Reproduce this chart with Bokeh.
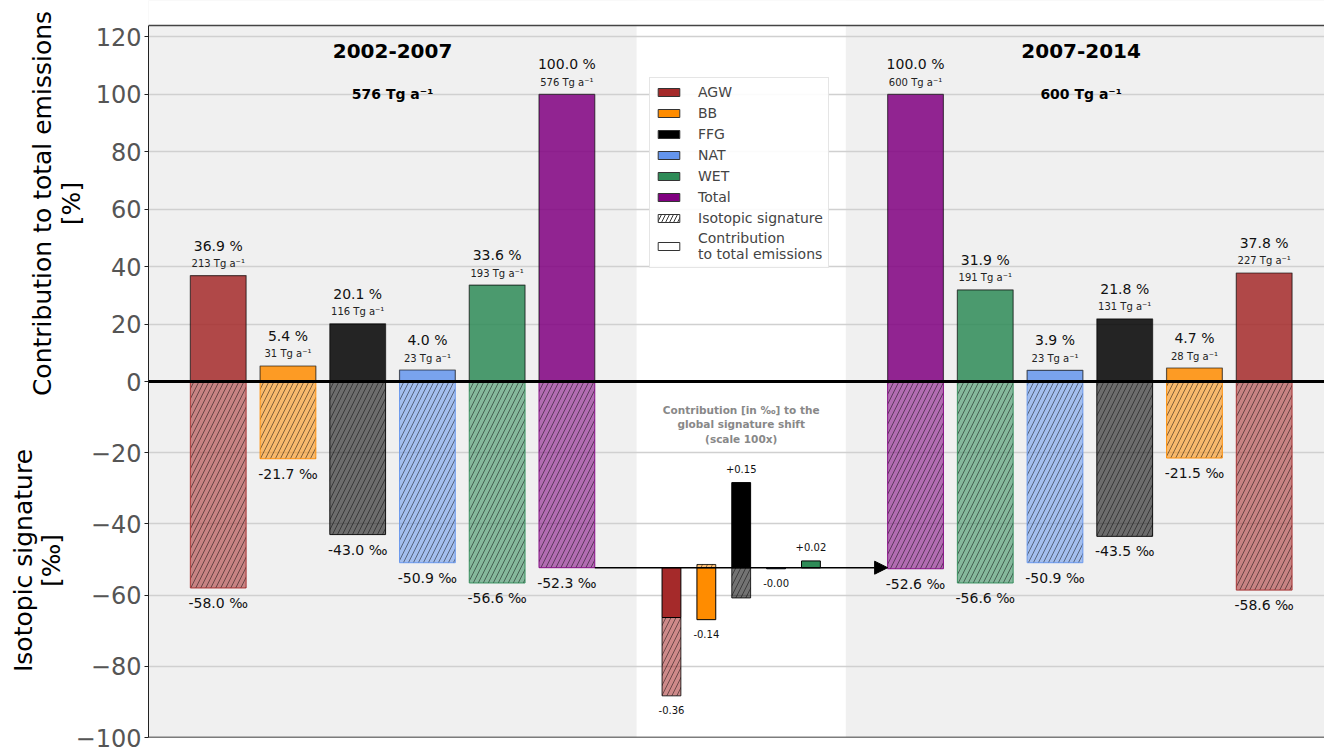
import numpy as np
from bokeh.plotting import figure
from bokeh.layouts import row
from bokeh.models import (ColumnDataSource, Range1d, FixedTicker, Span, BoxAnnotation,
                          Legend, LegendItem, Arrow, NormalHead)
from bokeh.core.properties import value
from bokeh.embed import file_html
from bokeh.resources import INLINE

# ---------------- data ----------------
categories = ["AGW", "BB", "FFG", "NAT", "WET", "Total"]
colors = ["#a52a2a", "#ff8c00", "#000000", "#6495ed", "#2e8b57", "#800080"]
periods = ["2002-2007", "2007-2014"]
period_totals = [576, 600]

share_2002_2007 = [36.9, 5.4, 20.1, 4.0, 33.6, 100.0]
tg_2002_2007 = [213, 31, 116, 23, 193, 576]
sig_2002_2007 = [-58.0, -21.7, -43.0, -50.9, -56.6, -52.3]

share_2007_2014 = [37.8, 4.7, 21.8, 3.9, 31.9, 100.0]
tg_2007_2014 = [227, 28, 131, 23, 191, 600]
sig_2007_2014 = [-58.6, -21.5, -43.5, -50.9, -56.6, -52.6]

shift_sources = ["AGW", "BB", "FFG", "NAT", "WET"]
shift_emission_part = [-0.14, -0.146, 0.239, -0.003, 0.019]   # per mil
shift_signature_part = [-0.22, 0.009, -0.085, 0.0, 0.0]       # per mil
shift_scale = 100

pct_ticks = [20, 40, 60, 80, 100, 120]
sig_ticks = [-100, -80, -60, -40, -20, 0]

FONT = "DejaVu Sans"

# ---------------- layout helpers ----------------
n = len(categories)
x_left = np.arange(1, n + 1).astype(float)
x_right = (2 * n + 5) - x_left           # mirrored group
x_mid = n + 1 + 0.5 * np.arange(1, len(shift_sources) + 1)
AX_END = 16.75                          # nominal right limit (used for centring title)
FRAME_W = 1176
PX_PER_UNIT = 69.73
X_END = FRAME_W / PX_PER_UNIT
PCT_MAX = 124.0
SIG_MAX = 100.0
HALF_H = 356                            # pixel height of each half of the axes box
TOP_GAP = 25                            # white strip above the axes box
BOT_B = 10
FRAME_H = TOP_GAP + 2 * HALF_H
PAGE_H = FRAME_H + BOT_B
SIG_TOP = SIG_MAX + TOP_GAP * SIG_MAX / HALF_H
PCT_TOP = PCT_MAX + TOP_GAP * PCT_MAX / HALF_H
LEFT_W = 100          # width of the title panel
MAIN_LEFT_B = 77
OVERLAP = LEFT_W + MAIN_LEFT_B - 148

p = figure(frame_width=FRAME_W, frame_height=FRAME_H, min_border_left=MAIN_LEFT_B, min_border_right=0,
           min_border_top=0, min_border_bottom=BOT_B, title=None,
           x_range=Range1d(0, X_END), y_range=Range1d(-SIG_MAX, SIG_TOP),
           x_axis_location=None, toolbar_location=None, output_backend="svg")
p.extra_y_ranges = {"pct": Range1d(-PCT_MAX, PCT_TOP)}
p.background_fill_color = "#f0f0f0"
p.border_fill_color = None
p.outline_line_color = None
p.xgrid.visible = False

# y axis: combined ticks (signature below zero, percentages above zero)
conv = SIG_MAX / PCT_MAX
pct_pos = [round(v * conv, 6) for v in pct_ticks]
ticks = sig_ticks + pct_pos
overrides = {}
for v in sig_ticks:
    overrides[v] = ("\u2212" + str(abs(v))) if v < 0 else str(v)
for v, pos in zip(pct_ticks, pct_pos):
    overrides[pos] = str(v)
ax = p.yaxis[0]
ax.ticker = FixedTicker(ticks=ticks)
ax.bounds = (-SIG_MAX, SIG_MAX)
ax.major_label_overrides = overrides
ax.major_label_text_font = FONT
ax.major_label_text_font_size = "24px"
ax.major_label_text_color = "#555555"
ax.major_label_standoff = 3
ax.axis_line_color = "#222222"
ax.major_tick_line_color = "#222222"
ax.major_tick_out = 4
ax.major_tick_in = 0
ax.minor_tick_line_color = None
p.ygrid.ticker = FixedTicker(ticks=[t for t in ticks if t != 0])
p.ygrid.grid_line_color = "#d0d0d0"
p.ygrid.grid_line_width = 1.5

# white strip above the axes box and white middle band
p.add_layout(BoxAnnotation(bottom=SIG_MAX, fill_color="white", fill_alpha=1.0,
                           line_color=None, level="image"))
p.add_layout(BoxAnnotation(left=n + 1, right=n + 4, fill_color="white", fill_alpha=1.0,
                           line_color=None, level="image"))

# ---------------- top bars (contribution %) ----------------
top_src = ColumnDataSource(dict(
    x=np.concatenate([x_left, x_right]),
    top=share_2002_2007 + share_2007_2014,
    color=colors + colors,
    pct=[f"{v:.1f} %" for v in share_2002_2007 + share_2007_2014],
    tg=[f"{v} Tg a\u207b\u00b9" for v in tg_2002_2007 + tg_2007_2014],
))
p.vbar(x="x", top="top", bottom=0, width=0.8, source=top_src, y_range_name="pct",
       fill_color="color", fill_alpha=0.85, line_color="black", line_alpha=0.6, line_width=1.2)
p.text(x="x", y="top", text="pct", source=top_src, y_range_name="pct", y_offset=-30,
       text_align="center", text_baseline="middle", text_font=value(FONT),
       text_font_size="14px", text_color="#111111")
p.text(x="x", y="top", text="tg", source=top_src, y_range_name="pct", y_offset=-12,
       text_align="center", text_baseline="middle", text_font=value(FONT),
       text_font_size="10px", text_color="#222222")

# ---------------- bottom bars (isotopic signature) ----------------
bot_src = ColumnDataSource(dict(
    x=np.concatenate([x_left, x_right]),
    sig=sig_2002_2007 + sig_2007_2014,
    color=colors + colors,
    lab=[f"{v:.1f} \u2030" for v in sig_2002_2007 + sig_2007_2014],
))
p.vbar(x="x", top=0, bottom="sig", width=0.8, source=bot_src,
       fill_color="color", fill_alpha=0.55, line_color="color", line_alpha=0.9,
       hatch_pattern="/", hatch_color="black", hatch_alpha=0.6, hatch_scale=10, hatch_weight=0.8)
p.text(x="x", y="sig", text="lab", source=bot_src, y_offset=15,
       text_align="center", text_baseline="middle", text_font=value(FONT),
       text_font_size="14px", text_color="#111111")

# ---------------- middle waterfall (signature shift) ----------------
base = sig_2002_2007[-1]
emis = np.array(shift_emission_part) * shift_scale
sigp = np.array(shift_signature_part) * shift_scale
solid_top = base + emis
hatch_start = np.where(np.sign(emis) == np.sign(sigp), base + emis, base)
hatch_end = hatch_start + sigp
net = np.array(shift_emission_part) + np.array(shift_signature_part)
hi = np.maximum.reduce([np.full_like(emis, base), solid_top, hatch_start, hatch_end])
lo = np.minimum.reduce([np.full_like(emis, base), solid_top, hatch_start, hatch_end])
mid_colors = colors[:len(shift_sources)]

mid_src = ColumnDataSource(dict(x=x_mid, b=np.full_like(emis, base), t=solid_top,
                                hs=hatch_start, he=hatch_end, color=mid_colors))
p.vbar(x="x", top="he", bottom="hs", width=0.27, source=mid_src,
       fill_color="color", fill_alpha=0.55, line_color="black", line_alpha=0.8,
       hatch_pattern="/", hatch_color="black", hatch_alpha=0.6, hatch_scale=10, hatch_weight=0.8)
p.vbar(x="x", top="t", bottom="b", width=0.27, source=mid_src,
       fill_color="color", fill_alpha=1.0, line_color="black", line_width=1)

up = net > 0
lab_up = ColumnDataSource(dict(x=x_mid[up], y=hi[up], t=[f"{v:+.2f}" for v in net[up]]))
lab_dn = ColumnDataSource(dict(x=x_mid[~up], y=lo[~up], t=[f"{v:+.2f}" for v in net[~up]]))
p.text(x="x", y="y", text="t", source=lab_up, y_offset=-14, text_align="center",
       text_baseline="middle", text_font=value(FONT), text_font_size="10px", text_color="#111111")
p.text(x="x", y="y", text="t", source=lab_dn, y_offset=14, text_align="center",
       text_baseline="middle", text_font=value(FONT), text_font_size="10px", text_color="#111111")

p.text(x=[float(np.mean(x_mid))], y=[-12], text=["Contribution [in \u2030] to the\nglobal signature shift\n(scale 100x)"],
       text_align="center", text_baseline="middle", text_font=value(FONT), text_font_size="10.5px",
       text_font_style="bold", text_color="#888888", text_line_height=1.2)

# arrow from 2002-2007 total signature to 2007-2014 total signature
p.add_layout(Arrow(end=NormalHead(size=13, fill_color="black", line_color="black"),
                   x_start=x_left[-1] + 0.4, y_start=base, x_end=x_right[-1] - 0.4, y_end=base,
                   line_color="black", line_width=1.5))

# zero line and box lines
p.add_layout(Span(location=0, dimension="width", line_color="black", line_width=3))
p.add_layout(Span(location=SIG_MAX, dimension="width", line_color="#444444", line_width=1.5))
p.add_layout(Span(location=-SIG_MAX, dimension="width", line_color="black", line_width=1.5))

# period titles
title_src = ColumnDataSource(dict(x=[(0 + n + 1) / 2, (n + 4 + AX_END) / 2],
                                  t=periods, s=[f"{v} Tg a\u207b\u00b9" for v in period_totals]))
p.text(x="x", y=115, text="t", source=title_src, y_range_name="pct", text_align="center",
       text_baseline="middle", text_font=value(FONT), text_font_size="20px",
       text_font_style="bold", text_color="black")
p.text(x="x", y=100, text="s", source=title_src, y_range_name="pct", text_align="center",
       text_baseline="middle", text_font=value(FONT), text_font_size="14px",
       text_font_style="bold", text_color="black")

# ---------------- legend ----------------
off = dict(x=[-50.0], top=[0.0])
items = []
for c, col in zip(categories, colors):
    r = p.vbar(x="x", top="top", bottom=0, width=0.5, source=ColumnDataSource(off),
               fill_color=col, line_color="#333333")
    items.append(LegendItem(label=c, renderers=[r]))
r_h = p.vbar(x="x", top="top", bottom=0, width=0.5, source=ColumnDataSource(off), fill_color="white",
             line_color="#333333", hatch_pattern="/", hatch_color="black", hatch_scale=8, hatch_weight=0.8)
items.append(LegendItem(label="Isotopic signature", renderers=[r_h]))
r_c = p.vbar(x="x", top="top", bottom=0, width=0.5, source=ColumnDataSource(off), fill_color="white",
             line_color="#333333")
items.append(LegendItem(label="Contribution\nto total emissions", renderers=[r_c]))

leg = Legend(items=items, location=(501, 469), label_text_font=FONT, label_text_font_size="14px",
             glyph_width=27, glyph_height=10, label_height=17, label_standoff=16, spacing=4,
             padding=5, margin=0, border_line_color="#cccccc", border_line_width=1,
             background_fill_color="white", background_fill_alpha=0.9)
p.add_layout(leg, "center")

# ---------------- axis titles (title panel, partly under the transparent axis border) ----------------
lt = figure(title=None, frame_width=LEFT_W, frame_height=FRAME_H, min_border_left=0, min_border_right=0,
            min_border_top=0, min_border_bottom=BOT_B,
            x_range=Range1d(0, LEFT_W), y_range=Range1d(BOT_B, PAGE_H),
            x_axis_location=None, y_axis_location=None, toolbar_location=None, output_backend="svg")
lt.grid.visible = False
lt.outline_line_color = None
lt.background_fill_color = "white"
lt.border_fill_color = "white"
lt.margin = (0, -OVERLAP, 0, 0)
ax_titles = ColumnDataSource(dict(
    x=[42, 71, 23, 51],
    y=[PAGE_H - 203, PAGE_H - 203, PAGE_H - 560, PAGE_H - 560],
    t=["Contribution to total emissions", "[%]", "Isotopic signature", "[\u2030]"],
))
lt.text(x="x", y="y", text="t", source=ax_titles, angle=np.pi / 2, text_align="center",
        text_baseline="middle", text_font=value(FONT), text_font_size="25px", text_color="black")

layout = row(lt, p, spacing=0)
open("out.html", "w").write(file_html(layout, INLINE))
